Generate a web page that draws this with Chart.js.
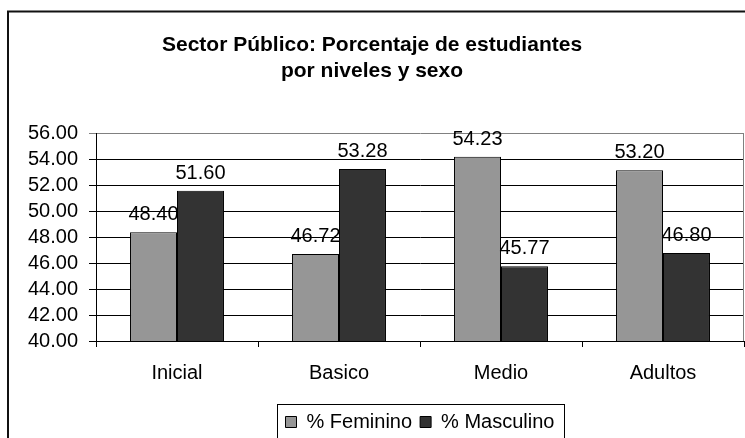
<!DOCTYPE html>
<html>
<head>
<meta charset="utf-8">
<script src="https://cdn.jsdelivr.net/npm/chart.js@4/dist/chart.umd.min.js"></script>
<style>
  html, body { margin: 0; padding: 0; background: #fff; }
  #wrap { width: 745px; height: 438px; overflow: hidden; position: relative; }
  canvas { display: block; }
</style>
</head>
<body>
<div id="wrap"><canvas id="c" width="766" height="442"></canvas></div>
<script>
const niveles = ['Inicial', 'Basico', 'Medio', 'Adultos'];
const femenino = [48.40, 46.72, 54.23, 53.20];
const masculino = [51.60, 53.28, 45.77, 46.80];
const titulo = ['Sector Público: Porcentaje de estudiantes', 'por niveles y sexo'];

Chart.defaults.font.family = '"Liberation Sans", Arial, sans-serif';
Chart.defaults.color = '#000';

// value labels above each bar
const etiquetas = {
  id: 'etiquetas',
  afterDatasetsDraw(chart) {
    const ctx = chart.ctx;
    ctx.save();
    ctx.font = '20px "Liberation Sans", Arial, sans-serif';
    ctx.fillStyle = '#000';
    ctx.textAlign = 'center';
    ctx.textBaseline = 'alphabetic';
    chart.data.datasets.forEach((ds, i) => {
      chart.getDatasetMeta(i).data.forEach((bar, j) => {
        ctx.fillText(ds.data[j].toFixed(2), bar.x, bar.y - 12);
      });
    });
    ctx.restore();
  }
};

// outer frame, plot border and legend box
const marcos = {
  id: 'marcos',
  afterDraw(chart) {
    const ctx = chart.ctx;
    const a = chart.chartArea;
    ctx.save();
    ctx.strokeStyle = '#808080';
    ctx.lineWidth = 1;
    ctx.beginPath();
    ctx.moveTo(Math.round(a.right) - 0.5, a.top);
    ctx.lineTo(Math.round(a.right) - 0.5, a.bottom);
    ctx.stroke();

    const lg = chart.legend;
    if (lg && lg.legendHitBoxes.length) {
      const hb = lg.legendHitBoxes;
      const l = hb[0].left - 9;
      const r = hb[hb.length - 1].left + hb[hb.length - 1].width + 9;
      ctx.strokeStyle = '#000';
      ctx.strokeRect(Math.round(l) + 0.5, Math.round(lg.top) + 0.5, Math.round(r - l), 60);
    }

    ctx.strokeStyle = '#111';
    ctx.lineWidth = 2;
    ctx.strokeRect(8, 11.5, chart.width - 16, 500);
    ctx.restore();
  }
};

new Chart(document.getElementById('c'), {
  type: 'bar',
  data: {
    labels: niveles,
    datasets: [
      { label: '% Feminino', data: femenino, backgroundColor: '#969696', borderColor: '#000', borderWidth: 1 },
      { label: '% Masculino', data: masculino, backgroundColor: '#333333', borderColor: '#000', borderWidth: 1 }
    ]
  },
  options: {
    responsive: false,
    animation: false,
    layout: { padding: { left: 0, right: 22, top: 0, bottom: 0 } },
    datasets: { bar: { categoryPercentage: 0.58, barPercentage: 1.0 } },
    plugins: {
      title: {
        display: true,
        text: titulo,
        font: { size: 21, weight: 'bold' },
        lineHeight: 1.05,
        padding: { top: 33, bottom: 50.5 },
        color: '#000'
      },
      legend: {
        position: 'bottom',
        fullSize: false,
        labels: { boxWidth: 11, boxHeight: 11, padding: 8, font: { size: 20 }, color: '#000' }
      },
      tooltip: { enabled: false }
    },
    scales: {
      x: {
        grid: { drawOnChartArea: false, drawTicks: true, tickLength: 6, color: '#000' },
        border: { color: '#000' },
        ticks: { padding: 14, font: { size: 20 } },
        afterFit(s) { s.height = 63; }
      },
      y: {
        min: 40,
        max: 56,
        grid: {
          color: c => (c.tick && c.tick.value === 56 ? '#808080' : '#000'),
          tickLength: 7
        },
        border: { color: '#000' },
        ticks: { stepSize: 2, autoSkip: false, padding: 11, font: { size: 20 }, callback: v => Number(v).toFixed(2) },
        afterFit(s) { s.width = 96; }
      }
    }
  },
  plugins: [etiquetas, marcos]
});
</script>
</body>
</html>
